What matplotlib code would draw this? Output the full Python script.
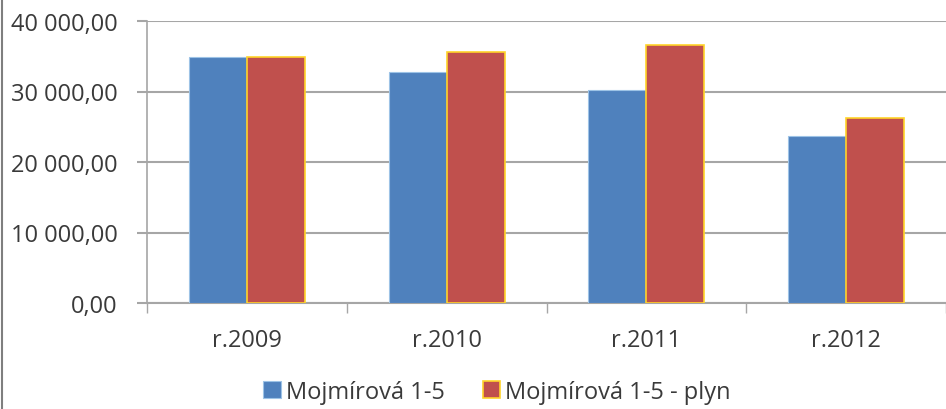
import matplotlib
matplotlib.use('Agg')
import matplotlib.pyplot as plt
from matplotlib.ticker import FuncFormatter, FixedLocator
from matplotlib.lines import Line2D
import numpy as np

# data
years = ['r.2009', 'r.2010', 'r.2011', 'r.2012']
mojmirova = [34900, 32700, 30200, 23700]
mojmirova_plyn = [34850, 35600, 36600, 26200]
series_names = ['Mojmírová 1-5', 'Mojmírová 1-5 - plyn']

plt.rcParams['font.family'] = ['Open Sans', 'DejaVu Sans']

def fmt(v, pos):
    s = f'{v:,.2f}'
    return s.replace(',', ' ').replace('.', ',')

fig = plt.figure(figsize=(9.46, 4.10), dpi=100)
ax = fig.add_axes([147/946, 1 - 304/410, 1 - 147/946, 282/410])

x = np.arange(len(years))
w = 0.29
ax.bar(x - w/2, mojmirova, w, color='#4F81BD', edgecolor='#9DC3E6', linewidth=0.8,
       label=series_names[0], zorder=3)
ax.bar(x + w/2, mojmirova_plyn, w, color='#C0504D', edgecolor='#FFD42A', linewidth=1.2,
       label=series_names[1], zorder=3)

ax.set_xlim(-0.5, len(years) - 0.5)
ax.set_ylim(0, 40000)
ax.set_yticks(np.arange(0, 40001, 10000))
ax.yaxis.set_major_formatter(FuncFormatter(fmt))
ax.yaxis.grid(True, color='#A6A6A6', linewidth=1.5, zorder=0)

ax.set_xticks(x)
ax.set_xticklabels(years)
ax.xaxis.set_minor_locator(FixedLocator(np.arange(-0.5, len(years), 1.0)))
ax.tick_params(axis='x', which='major', length=0, pad=18, labelsize=17, labelcolor='#3A3A3A')
ax.tick_params(axis='x', which='minor', length=7, width=1, color='#A6A6A6', direction='out')
ax.tick_params(axis='y', length=7, width=1.5, color='#A6A6A6', pad=14, labelsize=17,
               labelcolor='#3A3A3A')

for side in ['top', 'right']:
    ax.spines[side].set_visible(False)
ax.spines['left'].set_color('#A6A6A6')
ax.spines['bottom'].set_color('#A6A6A6')
ax.spines['left'].set_linewidth(1.2)
ax.spines['bottom'].set_linewidth(1.5)

leg = fig.legend(loc='center', bbox_to_anchor=(497/946, 1 - 393/410), ncol=2, frameon=False,
                 fontsize=17, handlelength=0.75, handleheight=0.75, handletextpad=0.2,
                 columnspacing=1.6, borderpad=0)
for t in leg.get_texts():
    t.set_color('#3A3A3A')

# outer chart border on the left
fig.add_artist(Line2D([1.5/946, 1.5/946], [0, 1], transform=fig.transFigure,
                      color='#7F7F7F', linewidth=1.5))

fig.savefig('out.png', dpi=100)
